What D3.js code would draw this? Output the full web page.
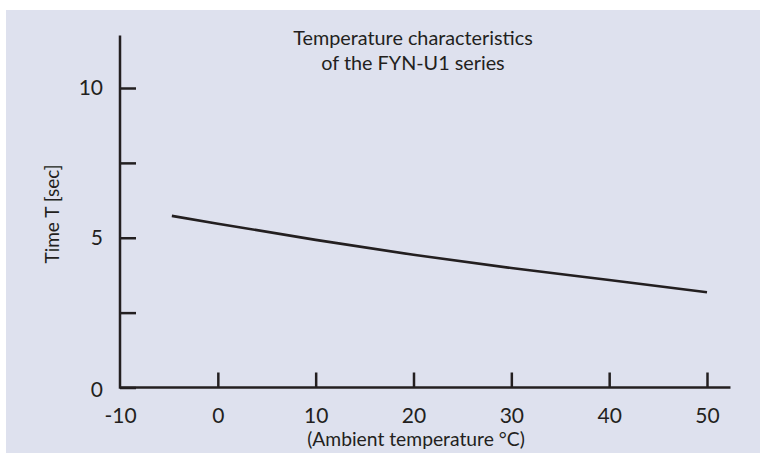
<!DOCTYPE html>
<html>
<head>
<meta charset="utf-8">
<script src="https://cdn.jsdelivr.net/npm/d3@7/dist/d3.min.js"></script>
<style>
  html, body { margin: 0; padding: 0; background: #ffffff; }
  svg { display: block; }
  text { font-family: Lato, "Open Sans", sans-serif; fill: #231f20; }
</style>
</head>
<body>
<svg id="chart" width="760" height="453"></svg>
<script>
// ---- data ----
const temperatures = [-4.7, 0, 10, 20, 30, 40, 50];          // ambient temperature °C
const timeValues   = [5.73, 5.47, 4.93, 4.43, 3.99, 3.59, 3.18]; // time T [sec]
const xTickValues  = [-10, 0, 10, 20, 30, 40, 50];
const xTickLabels  = ["-10", "0", "10", "20", "30", "40", "50"];
const yTickValues  = [0, 2.5, 5, 7.5, 10];
const yTickLabels  = ["0", "", "5", "", "10"];
const titleLines   = ["Temperature characteristics", "of the FYN-U1 series"];
const xAxisTitle   = "(Ambient temperature °C)";
const yAxisTitle   = "Time T [sec]";

// ---- layout ----
const W = 760, H = 453;
const ink = "#231f20";
const svg = d3.select("#chart");

svg.append("rect").attr("x", 6).attr("y", 10).attr("width", W - 6).attr("height", H - 10)
  .attr("fill", "#dee1ee");

const x = d3.scaleLinear().domain([-10, 50]).range([120, 707]);
const y = d3.scaleLinear().domain([0, 10]).range([387.5, 88]);

const x0 = x(-10);
const xEnd = x(52.4);
const yTop = y(11.75);

// x axis
const gx = svg.append("g").attr("transform", `translate(0,${y(0)})`)
  .call(d3.axisBottom(x).tickValues(xTickValues).tickFormat((d, i) => xTickLabels[i])
    .tickSizeInner(-15).tickSizeOuter(0).tickPadding(21));
gx.select(".domain").remove();
gx.selectAll(".tick line").attr("stroke", ink).attr("stroke-width", 2.5);
gx.selectAll(".tick").filter(d => d === -10).select("line").remove();
gx.selectAll(".tick text").attr("font-size", 21).attr("fill", ink).attr("font-family", "Lato, sans-serif");

// y axis
const gy = svg.append("g").attr("transform", `translate(${x0},0)`)
  .call(d3.axisLeft(y).tickValues(yTickValues).tickFormat((d, i) => yTickLabels[i])
    .tickSizeInner(-16).tickSizeOuter(0).tickPadding(17));
gy.select(".domain").remove();
gy.selectAll(".tick line").attr("stroke", ink).attr("stroke-width", 2.5);
gy.selectAll(".tick text").attr("font-size", 21).attr("fill", ink).attr("font-family", "Lato, sans-serif");
gy.selectAll(".tick").filter(d => d === 0).select("text").attr("dy", "0.42em");

// axis lines
svg.append("line").attr("x1", x0).attr("x2", xEnd).attr("y1", y(0)).attr("y2", y(0))
  .attr("stroke", ink).attr("stroke-width", 2.5);
svg.append("line").attr("x1", x0).attr("x2", x0).attr("y1", yTop).attr("y2", y(0) + 1.25)
  .attr("stroke", ink).attr("stroke-width", 2.5);

// curve
const line = d3.line().x((d, i) => x(temperatures[i])).y(d => y(d)).curve(d3.curveMonotoneX);
svg.append("path").datum(timeValues).attr("d", line)
  .attr("fill", "none").attr("stroke", ink).attr("stroke-width", 2.6);

// title
svg.append("text").attr("x", 413).attr("y", 45).attr("text-anchor", "middle")
  .attr("font-size", 19.8).text(titleLines[0]);
svg.append("text").attr("x", 413).attr("y", 70).attr("text-anchor", "middle")
  .attr("font-size", 19.8).text(titleLines[1]);

// axis titles
svg.append("text").attr("x", 416).attr("y", 446).attr("text-anchor", "middle")
  .attr("font-size", 19.3).text(xAxisTitle);
svg.append("text").attr("transform", "translate(59,214) rotate(-90)").attr("text-anchor", "middle")
  .attr("font-size", 19).text(yAxisTitle);
</script>
</body>
</html>
